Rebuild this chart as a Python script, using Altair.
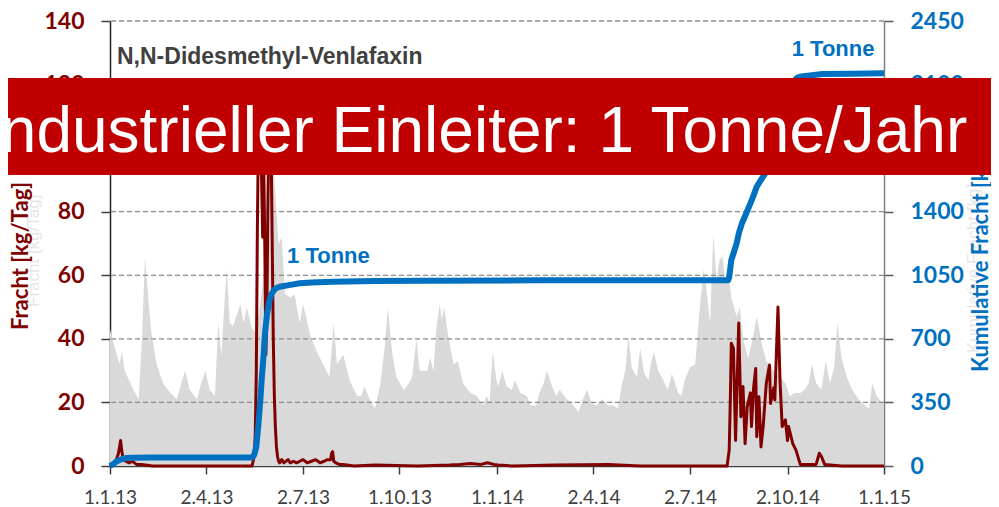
import altair as alt
import pandas as pd

START = pd.Timestamp("2013-01-01")

# Grey background series (left scale), (day since 1.1.13, value)
GREY = [(0,43),(3,39),(9,32),(11,36),(14,30),(22,24),(27,21),(30,39),(33,66),(36,53),(39,42),(44,32),
        (50,26),(57,23),(63,21),(68,27),(71,30),(75,24),(82,21),(86,26),(90,30),(94,24),(99,22),(102,45),
        (105,35),(110,62),(113,45),(116,44),(123,51),(126,45),(129,50),(134,43),(138,42),(145,60),(149,92),
        (154,95),(159,70),(162,72),(165,54),(170,53),(174,54),(179,45),(182,51),(189,41),(195,36),(201,32),
        (207,28),(211,45),(214,32),(220,35),(226,27),(233,22),(237,22),(240,25),(245,21),(250,18),(255,26),
        (259,37),(262,50),(266,36),(270,28),(277,24),(280,25),(285,28),(289,40),(292,30),(299,30),(302,34),
        (305,30),(308,44),(311,51),(313,46),(315,50),(319,41),(324,32),(328,33),(333,26),(340,23),(346,22),
        (352,19),(355,22),(358,20),(361,36),(364,28),(366,25),(370,30),(374,25),(379,24),(382,27),(387,23),
        (393,22),(397,19),(402,19),(405,23),(409,26),(412,30),(417,25),(421,22),(424,24),(431,21),(437,19),
        (442,17),(446,21),(450,24),(454,20),(459,19),(464,21),(470,19),(475,19),(479,18),(483,26),(486,30),
        (489,41),(492,31),(497,28),(500,37),(504,29),(508,27),(510,32),(513,36),(517,30),(522,27),(526,24),
        (530,29),(536,23),(539,22),(542,27),(547,31),(552,32),(556,49),(560,62),(563,54),(566,45),(569,73),
        (572,59),(575,65),(578,66),(580,58),(583,62),(586,53),(591,47),(594,50),(597,40),(602,34),(606,40),
        (610,47),(615,38),(619,33),(626,30),(632,28),(637,26),(641,22),(646,23),(651,23),(655,24),(659,26),
        (662,32),(666,26),(671,24),(675,33),(679,26),(683,31),(686,45),(690,34),(695,28),(700,24),(706,21),
        (712,19),(716,18),(719,26),(723,22),(728,20),(730,20)]

# Daily load [kg/Tag] (left scale)
RED = [(0,0),(2,0.5),(4,1),(6,2),(8,4),(9,6),(10,8),(11,5),(12,3),(13,2),(15,1.5),(18,1),(21,1.5),(25,0.5),
       (30,0.5),(40,0),(60,0),(100,0),(134,0),(136,3),(137,10),(138,30),(139,75),(140,105),(141,115),(142,108),
       (143,90),(144,72),(145,95),(146,70),(147,35),(148,50),(149,85),(150,105),(151,112),(152,100),(153,70),
       (154,40),(155,22),(156,12),(157,6),(158,3),(159,1.5),(160,1),(162,2),(164,1),(166,1.5),(168,2),(170,1),
       (173,1.5),(176,1),(179,1.5),(182,2),(186,1),(190,1.5),(194,2),(198,1),(202,1.5),(205,2),(208,2),(209,4),
       (210,4.5),(211,1.5),(213,1),(216,0.5),(220,0.5),(230,0),(250,0.3),(290,0),(320,0.3),(330,0.5),(340,0.8),
       (350,0.5),(356,1),(362,0.5),(366,0.3),(380,0),(420,0.3),(470,0.5),(500,0),(540,0),(580,0),(582,0),
       (584,5),(585,20),(586,38.6),(588,37),(590,8),(593,45),(595,15.5),(597,25),(599,7),(601,18.7),(604,23),
       (605,12.4),(607,24.6),(609,30.7),(610,9.2),(612,21.8),(614,6),(616,12.4),(619,26),(622,31.8),(623,19.7),
       (626,24.6),(627,20.8),(630,50),(632,26),(634,12.4),(637,14.5),(639,8),(640,12.4),(644,7),(647,5),
       (651,0.5),(666,0.5),(669,4),(671,3),(674,0.5),(690,0),(730,0)]

# Cumulative load [kg] (right scale)
BLUE = [(0,0),(3,10),(6,25),(9,33),(12,40),(16,44),(22,46),(40,47),(80,47),(120,47),(134,47),(136,60),
        (138,106),(140,230),(142,380),(143,470),(145,620),(146,720),(148,830),(150,900),(152,945),(155,970),
        (157,980),(160,987),(170,997),(179,1006),(190,1010),(210,1014),(250,1018),(300,1020),(400,1022),
        (500,1022),(583,1022),(584,1040),(586,1134),(588,1170),(591,1226),(593,1280),(596,1336),(600,1390),
        (604,1446),(607,1490),(610,1538),(614,1575),(618,1611),(622,1700),(626,1790),(630,1890),(634,1990),
        (638,2060),(642,2100),(646,2125),(648,2137),(652,2145),(660,2150),(672,2158),(700,2160),(730,2163)]

LEFT_TICKS = [0, 20, 40, 60, 80, 100, 120, 140]
GRID_LINES = [20, 40, 60, 80, 100, 120, 140]
RIGHT_TICKS = [0, 350, 700, 1050, 1400, 1750, 2100, 2450]
X_TICKS = [(2013,1,1),(2013,4,2),(2013,7,2),(2013,10,1),(2014,1,1),(2014,4,2),(2014,7,2),(2014,10,2),(2015,1,1)]

ANNOT = [("1 Tonne", 167, 64, "left"), ("1 Tonne", 721, 129, "right")]


def frame(pairs, name):
    d = pd.DataFrame(pairs, columns=["day", name])
    d["date"] = (START + pd.to_timedelta(d["day"], unit="D")).dt.strftime("%Y-%m-%d")
    return d


grey_df = frame(GREY, "v")
red_df = frame(RED, "v")
blue_df = frame(BLUE, "kg")
annot_df = pd.DataFrame(ANNOT, columns=["t", "day", "yv", "al"])
annot_df["date"] = (START + pd.to_timedelta(annot_df["day"], unit="D")).dt.strftime("%Y-%m-%d")
grid_df = pd.DataFrame({"g": GRID_LINES})

dt = lambda y, m, d: alt.DateTime(year=y, month=m, date=d, utc=True)
x_scale = alt.Scale(type="utc", domain=[dt(2013, 1, 1), dt(2015, 1, 1)])
x_axis = alt.Axis(values=[dt(*t) for t in X_TICKS],
                  labelExpr="utcFormat(datum.value, '%-d.%-m.%y')",
                  title=None, grid=False, labelFont="Lato", labelFontSize=19,
                  labelColor="#404040", tickColor="#404040", tickSize=8, tickWidth=1.5,
                  domainColor="#404040", domainWidth=1.5, labelPadding=14,
                  labelOverlap=False, labelFlush=False)
X = alt.X("date:T", scale=x_scale, axis=x_axis)

left_scale = alt.Scale(domain=[0, 140], nice=False, zero=True)
left_axis = alt.Axis(values=LEFT_TICKS, title=None, grid=False, labelFont="Lato", format="d",
                     labelFontSize=23, labelFontWeight="bold", labelColor="#800000",
                     tickColor="#404040", tickSize=9, tickWidth=1.5, domainColor="#262626",
                     domainWidth=1.5, labelPadding=17)

area = alt.Chart(grey_df).mark_area(color="#D9D9D9", opacity=1).encode(
    x=X, y=alt.Y("v:Q", scale=left_scale, axis=left_axis))
grid = alt.Chart(grid_df).mark_rule(color="#8c8c8c", strokeDash=[5, 3], strokeWidth=1.3).encode(
    y=alt.Y("g:Q", scale=left_scale, axis=left_axis))
red = alt.Chart(red_df).mark_line(color="#800000", strokeWidth=3, strokeJoin="round").encode(
    x=X, y=alt.Y("v:Q", scale=left_scale, axis=left_axis))
ann_l = alt.Chart(annot_df[annot_df.al == "left"]).mark_text(
    font="Liberation Sans", fontSize=22, fontWeight="bold", color="#0070C0",
    align="left", baseline="alphabetic").encode(
    x=X, y=alt.Y("yv:Q", scale=left_scale, axis=left_axis), text="t:N")
ann_r = alt.Chart(annot_df[annot_df.al == "right"]).mark_text(
    font="Liberation Sans", fontSize=22, fontWeight="bold", color="#0070C0",
    align="right", baseline="alphabetic").encode(
    x=X, y=alt.Y("yv:Q", scale=left_scale, axis=left_axis), text="t:N")
left_group = alt.layer(area, grid, red, ann_l, ann_r)

right_axis = alt.Axis(orient="right", values=RIGHT_TICKS, title=None, grid=False, labelFont="Lato",
                      format="d", labelFontSize=23, labelFontWeight="bold", labelColor="#0070C0",
                      tickColor="#595959", tickSize=9, tickWidth=1.5, domainColor="#7f7f7f",
                      domainWidth=1.5, labelPadding=17)
blue = alt.Chart(blue_df).mark_line(color="#0070C0", strokeWidth=6, strokeJoin="round").encode(
    x=X, y=alt.Y("kg:Q", scale=alt.Scale(domain=[0, 2450], nice=False), axis=right_axis))
right_group = alt.layer(blue)


def label(text, x, y, **kw):
    return alt.Chart(pd.DataFrame({"t": [text]})).mark_text(**kw).encode(
        x=alt.value(x), y=alt.value(y), text="t:N")


ghost_l = label("Fracht [kg/Tag]", -76, 286, font="Liberation Sans", fontSize=17, color="#e6e6e6",
                angle=270, align="left", baseline="middle")
ghost_r = label("Kumulative Fracht [kg]", 864, 332, font="Liberation Sans", fontSize=17, color="#e6e6e6",
                angle=270, align="left", baseline="middle")
title_l = label("Fracht [kg/Tag]", -89, 309, font="Lato", fontSize=22, fontWeight="bold",
                color="#800000", angle=270, align="left", baseline="middle")
title_r = label("Kumulative Fracht [kg]", 871, 351, font="Lato", fontSize=22, fontWeight="bold",
                color="#0070C0", angle=270, align="left", baseline="middle")
head = label("N,N-Didesmethyl-Venlafaxin", 7, 43, font="Liberation Sans", fontSize=23,
             fontWeight="bold", color="#404040", align="left", baseline="alphabetic")
banner = alt.Chart(pd.DataFrame({"a": [1]})).mark_rect(color="#C00000").encode(
    x=alt.value(-102), x2=alt.value(886), y=alt.value(57), y2=alt.value(154))
banner_text = label("Industrieller Einleiter: 1 Tonne/Jahr", -127, 131, font="Liberation Sans",
                    fontSize=64, color="#FFFFFF", align="left", baseline="alphabetic")

chart = alt.layer(left_group, right_group, ghost_l, ghost_r, title_l, title_r, head, banner,
                  banner_text).resolve_scale(y="independent").properties(
    width=774, height=445,
    padding={"left": 102, "top": 13, "right": 107, "bottom": 41},
    autosize=alt.AutoSizeParams(type="none"),
).configure_view(stroke=None)

chart.save("out.html", embed_options={"renderer": "svg", "actions": False})
